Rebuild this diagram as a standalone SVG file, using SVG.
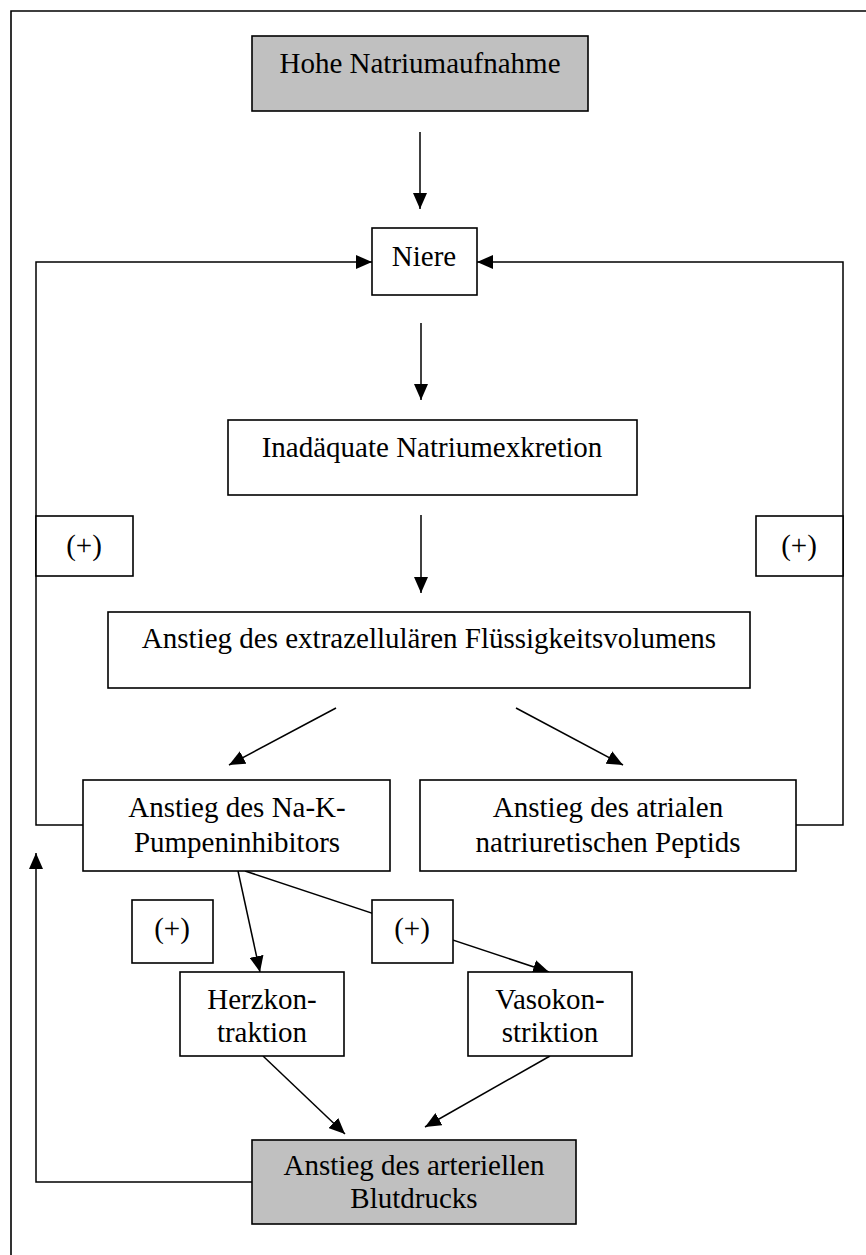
<svg xmlns="http://www.w3.org/2000/svg" width="866" height="1255" viewBox="0 0 866 1255">
<style>
.box{fill:#fff;stroke:#000;stroke-width:1.6}
.grey{fill:#c0c0c0;stroke:#000;stroke-width:1.6}
.c{fill:none;stroke:#000;stroke-width:1.5}
text{font-family:"Liberation Serif","Times New Roman",serif;font-size:29px;fill:#000;text-anchor:middle}
</style>
<defs>
<marker id="ah" markerWidth="16" markerHeight="14" refX="16" refY="7" orient="auto" markerUnits="userSpaceOnUse"><path d="M0,0 L16,7 L0,14 z" fill="#000"/></marker>
</defs>
<rect width="866" height="1255" fill="#fff"/>
<path d="M11,1255 V11 H866" fill="none" stroke="#000" stroke-width="1.6"/>
<g id="connectors">
<path class="c" d="M420,132 V209" marker-end="url(#ah)"/>
<path class="c" d="M421,323 V400" marker-end="url(#ah)"/>
<path class="c" d="M421,515 V593" marker-end="url(#ah)"/>
<path class="c" d="M84,825 H36 V262 H372" marker-end="url(#ah)"/>
<path class="c" d="M796,825 H843 V262 H477" marker-end="url(#ah)"/>
<path class="c" d="M336,708 L229,765" marker-end="url(#ah)"/>
<path class="c" d="M516,708 L623,765" marker-end="url(#ah)"/>
<path class="c" d="M238,871 L260,972" marker-end="url(#ah)"/>
<path class="c" d="M245,871 L549,972" marker-end="url(#ah)"/>
<path class="c" d="M263,1056 L345,1134" marker-end="url(#ah)"/>
<path class="c" d="M550,1056 L425,1127" marker-end="url(#ah)"/>
<path class="c" d="M252,1182 H36 V853" marker-end="url(#ah)"/>
</g>
<g id="hohe"><rect class="grey" x="252" y="36" width="336" height="75"/><text x="420" y="73">Hohe Natriumaufnahme</text></g>
<g id="niere"><rect class="box" x="372" y="228" width="105" height="67"/><text x="424" y="266">Niere</text></g>
<g id="inad"><rect class="box" x="228" y="420" width="409" height="75"/><text x="432" y="457">Inadäquate Natriumexkretion</text></g>
<g id="plusL"><rect class="box" x="36" y="516" width="97" height="60"/><text x="84" y="555">(+)</text></g>
<g id="plusR"><rect class="box" x="756" y="516" width="87" height="60"/><text x="799" y="555">(+)</text></g>
<g id="ecf"><rect class="box" x="108" y="612" width="642" height="76"/><text x="429" y="648">Anstieg des extrazellulären Flüssigkeitsvolumens</text></g>
<g id="nak"><rect class="box" x="83" y="780" width="307" height="91"/><text x="237" y="817">Anstieg des Na-K-</text><text x="237" y="852">Pumpeninhibitors</text></g>
<g id="anp"><rect class="box" x="420" y="780" width="376" height="91"/><text x="608" y="817">Anstieg des atrialen</text><text x="608" y="852">natriuretischen Peptids</text></g>
<g id="plusA"><rect class="box" x="132" y="900" width="81" height="63"/><text x="172" y="938">(+)</text></g>
<g id="plusB"><rect class="box" x="372" y="900" width="81" height="63"/><text x="412" y="938">(+)</text></g>
<g id="herz"><rect class="box" x="180" y="972" width="164" height="84"/><text x="262" y="1009">Herzkon-</text><text x="262" y="1042">traktion</text></g>
<g id="vaso"><rect class="box" x="468" y="972" width="164" height="84"/><text x="550" y="1009">Vasokon-</text><text x="550" y="1042">striktion</text></g>
<g id="bp"><rect class="grey" x="252" y="1140" width="324" height="84"/><text x="414" y="1175">Anstieg des arteriellen</text><text x="414" y="1208">Blutdrucks</text></g>
</svg>
